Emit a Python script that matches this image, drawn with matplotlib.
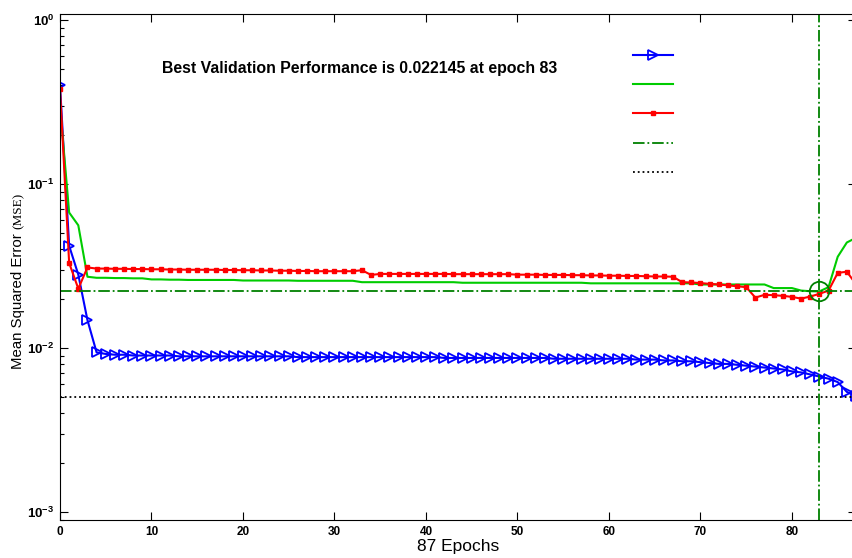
import numpy as np
import matplotlib
matplotlib.use('Agg')
import matplotlib.pyplot as plt
from matplotlib.ticker import FuncFormatter, LogLocator, NullFormatter

plt.rcParams['font.family'] = ['Liberation Sans', 'DejaVu Sans']
plt.rcParams['mathtext.fontset'] = 'custom'
plt.rcParams['mathtext.rm'] = 'Liberation Serif'
plt.rcParams['mathtext.bf'] = 'Liberation Sans:bold'

# training record, one value per epoch (0..87)
train = [0.40, 0.042, 0.028, 0.0148, 0.0094, 0.0092, 0.0091, 0.0091, 0.0090, 0.0090,
         0.0090, 0.0090, 0.0090, 0.0089, 0.0089, 0.0089, 0.0089, 0.0089, 0.0089, 0.0089,
         0.0089, 0.0089, 0.0089, 0.0089, 0.0089, 0.0089, 0.0088, 0.0088, 0.0088, 0.0088,
         0.0088, 0.0088, 0.0088, 0.0088, 0.0088, 0.0088, 0.0088, 0.0088, 0.0088, 0.0088,
         0.0088, 0.0088, 0.0087, 0.0087, 0.0087, 0.0087, 0.0087, 0.0087, 0.0087, 0.0087,
         0.0087, 0.0087, 0.0087, 0.0087, 0.0086, 0.0086, 0.0086, 0.0086, 0.0086, 0.0086,
         0.0086, 0.0086, 0.0086, 0.0085, 0.0085, 0.0085, 0.0084, 0.0084, 0.0083, 0.0083,
         0.0082, 0.0081, 0.0080, 0.0080, 0.0079, 0.0078, 0.0077, 0.0076, 0.0075, 0.0074,
         0.0072, 0.0071, 0.0069, 0.0067, 0.0065, 0.0062, 0.0054, 0.0051]

validation = [0.30, 0.067, 0.056, 0.0272, 0.0268, 0.0268, 0.0267, 0.0267, 0.0266, 0.0266,
              0.0262, 0.0262, 0.0261, 0.0261, 0.0260, 0.0260, 0.0260, 0.0260, 0.0260, 0.0260,
              0.0258, 0.0258, 0.0258, 0.0258, 0.0258, 0.0258, 0.0257, 0.0257, 0.0257, 0.0257,
              0.0257, 0.0257, 0.0257, 0.0252, 0.0252, 0.0252, 0.0252, 0.0252, 0.0252, 0.0252,
              0.0252, 0.0252, 0.0252, 0.0252, 0.0250, 0.0250, 0.0250, 0.0250, 0.0250, 0.0250,
              0.0250, 0.0250, 0.0250, 0.0250, 0.0250, 0.0250, 0.0250, 0.0250, 0.0248, 0.0248,
              0.0248, 0.0248, 0.0248, 0.0248, 0.0248, 0.0248, 0.0248, 0.0248, 0.0248, 0.0248,
              0.0244, 0.0244, 0.0244, 0.0244, 0.0244, 0.0244, 0.0244, 0.0244, 0.0232, 0.0232,
              0.0232, 0.0224, 0.0222, 0.022145, 0.0235, 0.036, 0.044, 0.047]

test = [0.38, 0.033, 0.023, 0.031, 0.0305, 0.0305, 0.0304, 0.0304, 0.0303, 0.0303,
        0.0302, 0.0302, 0.0301, 0.0301, 0.0300, 0.0300, 0.0300, 0.0300, 0.0299, 0.0299,
        0.0298, 0.0298, 0.0297, 0.0297, 0.0296, 0.0296, 0.0295, 0.0295, 0.0294, 0.0294,
        0.0294, 0.0294, 0.0294, 0.0298, 0.0279, 0.0283, 0.0283, 0.0283, 0.0283, 0.0283,
        0.0283, 0.0283, 0.0283, 0.0282, 0.0282, 0.0282, 0.0282, 0.0282, 0.0282, 0.0282,
        0.0280, 0.0280, 0.0280, 0.0279, 0.0279, 0.0279, 0.0278, 0.0278, 0.0277, 0.0277,
        0.0276, 0.0276, 0.0275, 0.0275, 0.0274, 0.0273, 0.0273, 0.0272, 0.0252, 0.0251,
        0.0249, 0.0246, 0.0244, 0.0241, 0.0238, 0.0235, 0.0203, 0.0211, 0.0210, 0.0208,
        0.0205, 0.0200, 0.0206, 0.0214, 0.0224, 0.0287, 0.0292, 0.0245]

epochs = np.arange(len(train))
best_epoch = 83
best_perf = 0.022145
goal = 0.005
n_epochs = 87

fig = plt.figure(figsize=(8.52, 5.58), dpi=100)
ax = fig.add_axes([60/852, 38/558, 796/852, 506/558])

dkgreen = (0, 0.5, 0)
l1, = ax.plot(epochs, train, color='#0000ff', lw=1.5, marker='>', ms=7.5,
              mfc='none', mec='#0000ff', mew=1.3)
l2, = ax.plot(epochs, validation, color='#00cc00', lw=1.5)
l3, = ax.plot(epochs, test, color='#ff0000', lw=1.5, marker='s', ms=3.5)
l4 = ax.axhline(best_perf, color=dkgreen, lw=1.3, ls='-.')
ax.axvline(best_epoch, color=dkgreen, lw=1.3, ls='-.')
ax.plot([best_epoch], [best_perf], 'o', ms=14, mfc='none', mec=dkgreen, mew=1.3)
l5 = ax.axhline(goal, color='black', lw=1.3, ls=':')

ax.set_yscale('log')
ax.set_ylim(8.94e-4, 1.088)
ax.set_xlim(0, n_epochs)
ax.set_xticks(np.arange(0, 81, 10))
ax.yaxis.set_major_locator(LogLocator(base=10, numticks=10))
ax.yaxis.set_minor_locator(LogLocator(base=10, subs=np.arange(2, 10), numticks=10))
ax.yaxis.set_minor_formatter(NullFormatter())
ax.yaxis.set_major_formatter(FuncFormatter(lambda v, p: r'$\mathbf{10^{%d}}$' % round(np.log10(v))))
ax.tick_params(which='both', direction='in', top=True, right=True)
ax.tick_params(which='major', length=6, width=0.8, pad=4)
ax.tick_params(axis='x', labelsize=8.5)
ax.tick_params(axis='y', labelsize=9.5)
ax.tick_params(which='minor', length=3, width=0.8)
for t in ax.get_xticklabels():
    t.set_fontweight('bold')

ax.set_xlabel('87 Epochs', fontsize=12.5, labelpad=1)
fig.text(18/852, (558 - 301)/558, 'Mean Squared Error', rotation=90, fontsize=10.8,
         ha='center', va='center')
fig.text(19/852, (558 - 211)/558, '(MSE)', rotation=90, fontsize=9.5,
         family='Liberation Serif', ha='center', va='center')

ax.text(0.376, 0.893, 'Best Validation Performance is 0.022145 at epoch 83',
        transform=ax.transAxes, ha='center', va='center', fontsize=11.4, fontweight='bold')

ax.legend([l1, l2, l3, l4, l5], ['', '', '', '', ''], loc='upper left',
          bbox_to_anchor=(0.7105, 0.945), frameon=False, handlelength=2.9,
          labelspacing=1.1, borderpad=0, fontsize=10, handletextpad=0)

fig.savefig('out.png', dpi=100)
